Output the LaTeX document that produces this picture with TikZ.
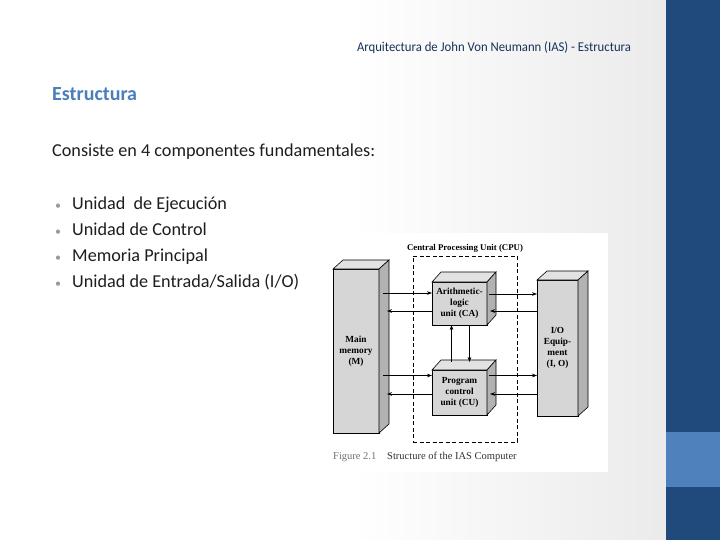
\documentclass[tikz,border=0pt]{standalone}
\usepackage{fontspec}
\setmainfont{Carlito}
\newfontfamily\figfont{Liberation Serif}
\usetikzlibrary{arrows.meta,calc}
\definecolor{barblue}{HTML}{214A7C}
\definecolor{bandblue}{HTML}{4F81BD}
\definecolor{titleblue}{HTML}{4A7EBB}
\definecolor{hdrblue}{HTML}{17325A}
\definecolor{boxfront}{HTML}{D6D6D6}
\definecolor{boxtop}{HTML}{E2E2E2}
\definecolor{boxside}{HTML}{B2B2B2}
\definecolor{bodytext}{HTML}{1E1E1E}
\definecolor{bulletgray}{HTML}{9A9A9A}
\newcommand{\cubefaces}[3]{%
  \filldraw[fill=boxtop, line width=0.6pt] (#1.north west) -- ++(#2,-#3) -- ($(#1.north east)+(#2,-#3)$) -- (#1.north east) -- cycle;
  \filldraw[fill=boxside, line width=0.6pt] (#1.north east) -- ++(#2,-#3) -- ($(#1.south east)+(#2,-#3)$) -- (#1.south east) -- cycle;
}
\tikzset{
  box/.style={draw, line width=0.6pt, fill=boxfront, inner sep=0pt, outer sep=0pt, align=center,
    font=\figfont\bfseries\fontsize{9.3}{10.8}\selectfont},
  arr/.style={line width=0.6pt, -{Stealth[length=5pt,width=3.6pt]}},
  bodyline/.style={anchor=base west, text=bodytext, font=\fontsize{18.2}{20}\selectfont, inner sep=0pt},
  bulletmark/.style={anchor=base west, text=bulletgray, font=\fontsize{12}{14}\selectfont, inner sep=0pt},
}
\begin{document}
\begin{tikzpicture}[x=1pt,y=-1pt]
\useasboundingbox (0,0) rectangle (720,540);
% background
\fill[white] (0,0) rectangle (351,540);
\shade[left color=white, right color=black!8] (350,0) rectangle (666,540);
\fill[barblue] (666,0) rectangle (720,540);
\fill[bandblue] (666,432) rectangle (720,487);
% header
\node[anchor=base, text=hdrblue, inner sep=0pt, font=\fontsize{13.5}{15}\selectfont] (hdr) at (494,52)
  {\resizebox{274pt}{\height}{Arquitectura de John Von Neumann (IAS) - Estructura}};
% title and body
\node[anchor=base west, text=titleblue, inner sep=0pt, font=\bfseries\fontsize{20}{24}\selectfont] (title) at (52,101) {Estructura};
\node[bodyline] (intro) at (52,157) {Consiste en 4 componentes fundamentales:};
\node[bulletmark] (b1) at (55,210) {•};
\node[bulletmark] (b2) at (55,236) {•};
\node[bulletmark] (b3) at (55,261) {•};
\node[bulletmark] (b4) at (55,287) {•};
\node[bodyline] (t1) at (72,210) {Unidad\ \ de Ejecución};
\node[bodyline] (t2) at (72,236) {Unidad de Control};
\node[bodyline] (t3) at (72,261) {Memoria Principal};
\node[bodyline] (t4) at (72,287) {Unidad de Entrada/Salida (I/O)};
% figure
\fill[white] (330,233) rectangle (608,472);
\node[draw, dashed, dash pattern=on 4pt off 2.5pt, line width=0.7pt, minimum width=104pt, minimum height=186pt, inner sep=0pt] (cpu) at (465,349) {};
\node[font=\figfont\bfseries\fontsize{8.8}{10}\selectfont, inner sep=0pt] (cpul) at (465,248.5) {Central Processing Unit (CPU)};
\node[box, minimum width=46pt, minimum height=164pt] (mm) at (356,351) {Main\\memory\\(M)};
\cubefaces{mm}{10}{9}
\node[box, minimum width=55pt, minimum height=43pt] (alu) at (459.5,303.5) {Arithmetic-\\logic\\unit (CA)};
\cubefaces{alu}{9}{10}
\node[box, minimum width=55pt, minimum height=45pt] (pcu) at (459.5,392.5) {Program\\control\\unit (CU)};
\cubefaces{pcu}{9}{10}
\node[box, minimum width=41pt, minimum height=136pt] (io) at (557.5,348) {I/O\\Equip-\\ment\\(I, O)};
\cubefaces{io}{10}{9}
% arrows memory <-> CPU
\draw[arr] ($(mm.east|-alu.west)+(4,-10.5)$) -- ($(alu.west)+(0,-10.5)$);
\draw[arr] ($(alu.west)+(0,7.5)$) -- ($(mm.east|-alu.west)+(8,7.5)$);
\draw[arr] ($(mm.east|-pcu.west)+(4,-17)$) -- ($(pcu.west)+(0,-17)$);
\draw[arr] ($(pcu.west)+(0,1.5)$) -- ($(mm.east|-pcu.west)+(8,1.5)$);
% arrows CPU <-> I/O
\draw[arr] ($(alu.east)+(2,-9.5)$) -- ($(io.west|-alu.east)+(0,-9.5)$);
\draw[arr] ($(io.west|-alu.east)+(0,7.5)$) -- ($(alu.east)+(3,7.5)$);
\draw[arr] ($(pcu.east)+(2,-17)$) -- ($(io.west|-pcu.east)+(0,-17)$);
\draw[arr] ($(io.west|-pcu.east)+(0,1.5)$) -- ($(pcu.east)+(3,1.5)$);
% vertical arrows
\draw[arr] ($(pcu.north)+(-8,-8)$) -- ($(alu.south)+(-8,0)$);
\draw[arr] ($(alu.south)+(10,0)$) -- ($(pcu.north)+(10,-8)$);
% caption
\node[anchor=base west, inner sep=0pt, text=black!55, font=\figfont\fontsize{10.5}{12}\selectfont] (fig) at (333,459) {Figure 2.1};
\node[anchor=base west, inner sep=0pt, text=black!80, font=\figfont\fontsize{10.5}{12}\selectfont] (cap) at (387,459) {Structure of the IAS Computer};
\end{tikzpicture}
\end{document}
